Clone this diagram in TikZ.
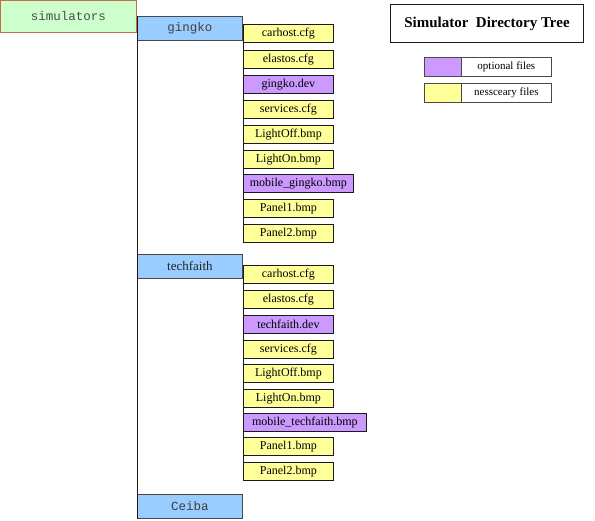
\documentclass[tikz,border=0pt]{standalone}
\usepackage{fontspec}
\setmainfont{Liberation Serif}
\setmonofont{Liberation Mono}
\definecolor{fy}{HTML}{FFFF99}
\definecolor{fp}{HTML}{CC99FF}
\definecolor{fb}{HTML}{99CCFF}
\definecolor{fg}{HTML}{CCFFCC}
\definecolor{fgb}{HTML}{C07048}
\definecolor{edge}{HTML}{1A1A1A}
\tikzset{
  filebox/.style={draw=edge, line width=0.8pt, fill=fy, minimum height=18pt, minimum width=90pt,
    inner sep=0pt, anchor=north west, font=\fontsize{12}{13}\selectfont},
  optbox/.style={filebox, fill=fp},
  dirbox/.style={draw=edge!80, line width=0.8pt, fill=fb, minimum height=24pt, minimum width=105pt,
    inner sep=0pt, anchor=north west, font=\ttfamily\fontsize{12.5}{13}\selectfont, text=black!75},
  legbox/.style={draw=edge!80, line width=0.7pt, minimum height=19pt, inner sep=0pt, anchor=north west,
    font=\fontsize{11}{12}\selectfont},
  tree/.style={draw=edge, line width=1pt}
}
\begin{document}
\begin{tikzpicture}[x=1pt,y=-1pt]
\useasboundingbox (0,0) rectangle (595,520);
% root
\node[draw=fgb, line width=0.8pt, fill=fg, minimum width=136pt, minimum height=32pt, inner sep=0pt,
  anchor=north west, font=\ttfamily\fontsize{12.5}{13}\selectfont, text=black!70] (sim) at (0,0) {simulators};
% directories
\node[dirbox] (gingko) at (137,16) {gingko};
\node[dirbox, font=\fontsize{13}{14}\selectfont, text=black!85] (tech) at (137,254) {techfaith};
\node[dirbox] (ceiba) at (137,494) {Ceiba};
% gingko files
\node[filebox] (g1) at (243,24) {carhost.cfg};
\node[filebox] (g2) at (243,50) {elastos.cfg};
\node[optbox] (g3) at (243,75) {gingko.dev};
\node[filebox] (g4) at (243,100) {services.cfg};
\node[filebox] (g5) at (243,125) {LightOff.bmp};
\node[filebox] (g6) at (243,150) {LightOn.bmp};
\node[optbox, minimum width=110pt] (g7) at (243,174) {mobile\_gingko.bmp};
\node[filebox] (g8) at (243,199) {Panel1.bmp};
\node[filebox] (g9) at (243,224) {Panel2.bmp};
% techfaith files
\node[filebox] (t1) at (243,265) {carhost.cfg};
\node[filebox] (t2) at (243,290) {elastos.cfg};
\node[optbox] (t3) at (243,315) {techfaith.dev};
\node[filebox] (t4) at (243,340) {services.cfg};
\node[filebox] (t5) at (243,364) {LightOff.bmp};
\node[filebox] (t6) at (243,389) {LightOn.bmp};
\node[optbox, minimum width=123pt] (t7) at (243,413) {mobile\_techfaith.bmp};
\node[filebox] (t8) at (243,437) {Panel1.bmp};
\node[filebox] (t9) at (243,462) {Panel2.bmp};
% tree lines
\draw[tree] (gingko.north west) -- (ceiba.south west);
\draw[tree] (g1.north west) -- (g9.south west);
\draw[tree] (t1.north west) -- (t9.south west);
% title
\node[draw=edge, line width=0.9pt, fill=white, minimum width=193pt, minimum height=38pt, inner sep=0pt,
  anchor=north west, font=\bfseries\fontsize{15}{17}\selectfont] (title) at (390,4) {Simulator~~Directory Tree};
% legend
\node[legbox, fill=fp, minimum width=37pt] (lp) at (424,57) {};
\node[legbox, fill=white, minimum width=90pt] (lpt) at (461,57) {optional files};
\node[legbox, fill=fy, minimum width=37pt] (ly) at (424,83) {};
\node[legbox, fill=white, minimum width=90pt] (lyt) at (461,83) {nessceary files};
\end{tikzpicture}
\end{document}
